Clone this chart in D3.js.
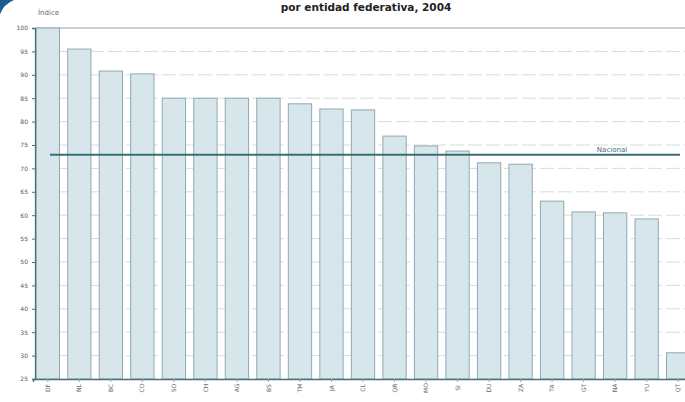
<!DOCTYPE html>
<html><head><meta charset="utf-8">
<script src="https://cdn.jsdelivr.net/npm/d3@7"></script>
<style>body{margin:0;background:#fff}svg{display:block}</style>
</head><body>
<svg id="c" width="685" height="402"></svg>
<script>
const categories = ["DF","NL","BC","CO","SO","CH","AG","BS","TM","JA","CL","QR","MO","SI","DU","ZA","TA","GT","NA","YU","QT"];
const values = [100,95.5,90.8,90.2,85,85,85,85,83.8,82.7,82.5,76.9,74.8,73.7,71.2,70.9,63.0,60.7,60.5,59.2,30.6];
const nacional = 72.9;
const yTicks = [100,95,90,85,80,75,70,65,60,55,50,45,40,35,30,25];
const title = "por entidad federativa, 2004";

const svg = d3.select("#c");
const x = d3.scaleBand().domain(categories).range([33, 693]).paddingInner(0.26).paddingOuter(0.1);
const y = d3.scaleLinear().domain([25,100]).range([379,28]);

// corner ornament
svg.append("path").attr("d","M0,0 L14,0 Q4,4 0,14 Z").attr("fill","#1d5c8c");

// title
svg.append("text").attr("x",366).attr("y",11).attr("text-anchor","middle")
  .attr("font-family","DejaVu Sans, sans-serif").attr("font-weight","bold").attr("font-size",10.5)
  .attr("fill","#222").text(title);

// gridlines
svg.append("g").selectAll("line").data(yTicks).join("line")
  .attr("x1",36).attr("x2",685).attr("y1",d=>y(d)).attr("y2",d=>y(d))
  .attr("stroke",d=>d===100?"#9aa6aa":"#c9d3d6").attr("stroke-width",d=>d===100?1.2:0.8)
  .attr("stroke-dasharray",d=>d===100?null:"14,4");

// bars
svg.append("g").selectAll("rect").data(values).join("rect")
  .attr("x",(d,i)=>x(categories[i])).attr("width",x.bandwidth())
  .attr("y",d=>y(d)).attr("height",d=>y(25)-y(d))
  .attr("fill","#d7e6eb").attr("stroke","#8fa9b0").attr("stroke-width",1);

// y axis
const ya = d3.axisLeft(y).tickValues(yTicks).tickSize(3).tickFormat(d3.format("d"));
const yg = svg.append("g").attr("transform","translate(35,0)").call(ya);
yg.select(".domain").attr("stroke","#4d6f78").attr("stroke-width",1.3);
yg.selectAll(".tick line").attr("stroke","#4d6f78");
yg.selectAll("text").attr("font-family","DejaVu Sans, sans-serif").attr("font-size",6).attr("fill","#556").attr("x",-7);

// x axis
const xa = d3.axisBottom(x).tickSize(3);
const xg = svg.append("g").attr("transform","translate(0,379)").call(xa);
xg.select(".domain").attr("stroke","#4d6f78").attr("stroke-width",1.3);
xg.selectAll(".tick line").attr("stroke","#8fa9b0");
xg.selectAll("text").attr("font-family","DejaVu Sans, sans-serif").attr("font-size",6).attr("fill","#667")
  .attr("transform","translate(0,9) rotate(-90)").attr("y",0).attr("dy","0.35em").attr("text-anchor","middle");

// axis title
svg.append("text").attr("x",38).attr("y",15).attr("font-family","DejaVu Sans, sans-serif")
  .attr("font-size",7).attr("fill","#667").text("Índice");

// nacional line
svg.append("line").attr("x1",50).attr("x2",680).attr("y1",y(nacional)).attr("y2",y(nacional))
  .attr("stroke","#3b6c78").attr("stroke-width",2);
svg.append("text").attr("x",612).attr("y",y(nacional)-3).attr("text-anchor","middle")
  .attr("font-family","DejaVu Sans, sans-serif").attr("font-size",7).attr("fill","#3b6c78").text("Nacional");
</script>
</body></html>
